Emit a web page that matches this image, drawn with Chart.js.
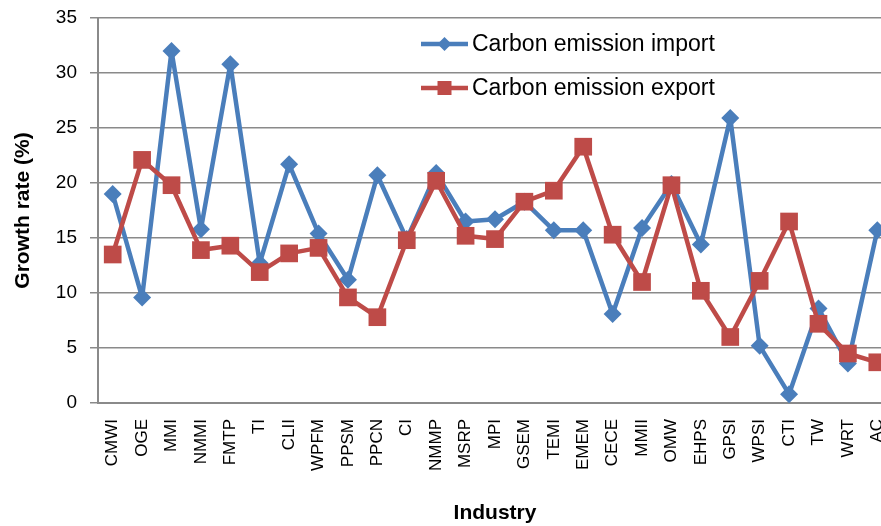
<!DOCTYPE html>
<html>
<head>
<meta charset="utf-8">
<script src="https://cdn.jsdelivr.net/npm/chart.js@4.4.1/dist/chart.umd.min.js"></script>
<style>
  html, body { margin: 0; padding: 0; background: #fff; }
  #frame { position: relative; width: 881px; height: 526px; overflow: hidden; }
  #frame canvas { position: absolute; left: 0; top: 0; display: block; }
</style>
</head>
<body>
<div id="frame"><canvas id="chart" width="892" height="526"></canvas></div>
<script>
// Industry codes along the category axis
const industries = ['CMWI', 'OGE', 'MMI', 'NMMI', 'FMTP', 'TI', 'CLII', 'WPFM', 'PPSM', 'PPCN',
  'CI', 'NMMP', 'MSRP', 'MPI', 'GSEM', 'TEMI', 'EMEM', 'CECE', 'MMII', 'OMW',
  'EHPS', 'GPSI', 'WPSI', 'CTI', 'TW', 'WRT', 'AC'];

// Growth rates (%)
const importGrowth = [19.0, 9.6, 32.0, 15.8, 30.8, 12.7, 21.7, 15.4, 11.2, 20.7,
  14.9, 20.9, 16.5, 16.7, 18.3, 15.7, 15.7, 8.1, 15.9, 19.9,
  14.4, 25.9, 5.2, 0.8, 8.6, 3.6, 15.7];
const exportGrowth = [13.5, 22.1, 19.8, 13.9, 14.3, 11.9, 13.6, 14.1, 9.6, 7.8,
  14.8, 20.2, 15.2, 14.9, 18.3, 19.3, 23.3, 15.3, 11.0, 19.8,
  10.2, 6.0, 11.1, 16.5, 7.2, 4.5, 3.7];

const yTicks = [0, 5, 10, 15, 20, 25, 30, 35];

const BLUE = '#4A7EBB';
const RED = '#BE4B48';
const FONT = "'Liberation Sans', Arial, Helvetica, sans-serif";

// Legend drawn inside the plot area, without a box
const insideLegend = {
  id: 'insideLegend',
  afterDatasetsDraw(chart) {
    const ctx = chart.ctx;
    const items = [
      { ds: chart.data.datasets[0], y: 44 },
      { ds: chart.data.datasets[1], y: 88 }
    ];
    const x0 = 421, x1 = 468, tx = 472;
    ctx.save();
    items.forEach(it => {
      ctx.strokeStyle = it.ds.borderColor;
      ctx.lineWidth = 4.5;
      ctx.lineCap = 'butt';
      ctx.beginPath();
      ctx.moveTo(x0, it.y);
      ctx.lineTo(x1, it.y);
      ctx.stroke();
      ctx.fillStyle = it.ds.borderColor;
      const cx = (x0 + x1) / 2;
      ctx.beginPath();
      if (it.ds.pointStyle === 'rectRot') {
        const r = 7;
        ctx.moveTo(cx, it.y - r);
        ctx.lineTo(cx + r, it.y);
        ctx.lineTo(cx, it.y + r);
        ctx.lineTo(cx - r, it.y);
        ctx.closePath();
      } else {
        const s = 7;
        ctx.rect(cx - s, it.y - s, 2 * s, 2 * s);
      }
      ctx.fill();
      ctx.fillStyle = '#000';
      ctx.font = '23px ' + FONT;
      ctx.textBaseline = 'middle';
      ctx.textAlign = 'left';
      ctx.fillText(it.ds.label, tx, it.y + 1);
    });
    ctx.restore();
  }
};

// Fixed scale boxes: no extra room reserved for overhanging tick labels
function noOverhang(scale) {
  scale.paddingLeft = 0;
  scale.paddingRight = 0;
  scale.paddingTop = 0;
  scale.paddingBottom = 0;
}

new Chart(document.getElementById('chart'), {
  type: 'line',
  data: {
    labels: industries,
    datasets: [
      {
        label: 'Carbon emission import',
        data: importGrowth,
        borderColor: BLUE,
        backgroundColor: BLUE,
        borderWidth: 4.5,
        borderJoinStyle: 'round',
        pointStyle: 'rectRot',
        pointRadius: 9,
        pointBorderWidth: 0,
        pointBackgroundColor: BLUE,
        tension: 0,
        order: 1,
        clip: false
      },
      {
        label: 'Carbon emission export',
        data: exportGrowth,
        borderColor: RED,
        backgroundColor: RED,
        borderWidth: 4.5,
        borderJoinStyle: 'round',
        pointStyle: 'rect',
        pointRadius: 12.5,
        pointBorderWidth: 0,
        pointBackgroundColor: RED,
        tension: 0,
        order: 0,
        clip: false
      }
    ]
  },
  options: {
    responsive: false,
    animation: false,
    devicePixelRatio: 1,
    layout: { autoPadding: false, padding: { top: 18, left: 0, right: 0, bottom: 0 } },
    plugins: {
      legend: { display: false },
      tooltip: { enabled: false }
    },
    scales: {
      x: {
        type: 'category',
        offset: true,
        grid: { display: false, drawTicks: false },
        border: { display: true, color: '#8a8a8a', width: 2 },
        ticks: {
          color: '#000',
          font: { family: FONT, size: 17 },
          minRotation: 90,
          maxRotation: 90,
          autoSkip: false,
          padding: 16
        },
        title: {
          display: true,
          text: 'Industry',
          color: '#000',
          font: { family: FONT, size: 21, weight: 'bold' },
          padding: { top: 0, bottom: 0 }
        },
        afterFit(scale) { scale.height = 123; noOverhang(scale); }
      },
      y: {
        min: 0,
        max: 35,
        afterBuildTicks(scale) { scale.ticks = yTicks.map(v => ({ value: v })); },
        grid: { color: '#8a8a8a', lineWidth: 1.5, tickLength: 8, tickColor: '#8a8a8a' },
        border: { display: true, color: '#8a8a8a', width: 2 },
        ticks: {
          color: '#000',
          font: { family: FONT, size: 19 },
          padding: 13
        },
        title: {
          display: true,
          text: 'Growth rate (%)',
          color: '#000',
          font: { family: FONT, size: 21, weight: 'bold' },
          padding: { top: 11, bottom: 0 }
        },
        afterFit(scale) { scale.width = 98; noOverhang(scale); }
      }
    }
  },
  plugins: [insideLegend]
});
</script>
</body>
</html>
